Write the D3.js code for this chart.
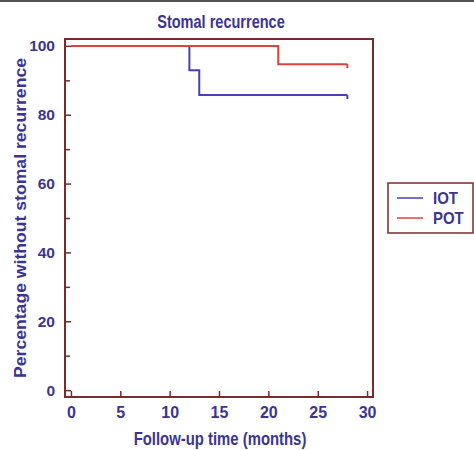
<!DOCTYPE html>
<html>
<head>
<meta charset="utf-8">
<script src="https://cdn.jsdelivr.net/npm/d3@7"></script>
<style>
  body { margin: 0; background: #fff; }
  svg text { font-family: "Liberation Sans", Arial, sans-serif; font-weight: bold; fill: #3b3495; }
</style>
</head>
<body>
<svg width="474" height="450"></svg>
<script>
// data
var groups = ["IOT", "POT"];
var iotTime = [0, 12, 13, 28],
    iotPct  = [100, 92.9, 85.7, 85.7];
var potTime = [0, 21, 28],
    potPct  = [100, 94.7, 94.7];
var xTicks = [0, 5, 10, 15, 20, 25, 30];
var yTicks = [0, 20, 40, 60, 80, 100];
var yMinor = [10, 30, 50, 70, 90];

var frameCol = "#7a2b2b",
    colors = {IOT: "#4a3fb8", POT: "#e2403b"};

// squeeze text horizontally, the original font is narrower than Arial
function condense(sel, f) {
  sel.each(function() {
    var w = this.getComputedTextLength();
    d3.select(this).attr("textLength", w * f).attr("lengthAdjust", "spacingAndGlyphs");
  });
}

var svg = d3.select("svg"),
    margin = {top: 39, right: 101, bottom: 53, left: 65},
    width = +svg.attr("width") - margin.left - margin.right,
    height = +svg.attr("height") - margin.top - margin.bottom;

svg.append("rect").attr("x", 0).attr("y", 0).attr("width", 474).attr("height", 2).attr("fill", "#555");

var g = svg.append("g").attr("transform", "translate(" + margin.left + "," + margin.top + ")");

var x = d3.scaleLinear().domain([-0.6, 30.6]).range([0, width]);
var y = d3.scaleLinear().domain([-2, 102]).range([height, 0]);

// minor ticks on y
g.append("g")
    .call(d3.axisLeft(y).tickValues(yMinor).tickSize(-5).tickFormat(""))
    .call(function(a) { a.select(".domain").remove(); a.selectAll("line").attr("stroke", frameCol).attr("stroke-width", 1.5); });

g.append("g")
    .call(d3.axisLeft(y).tickValues(yTicks).tickSize(-6).tickPadding(10))
    .call(function(a) {
      a.select(".domain").remove();
      a.selectAll("line").attr("stroke", frameCol).attr("stroke-width", 1.5);
      a.selectAll("text").attr("font-size", 15.5).attr("font-family", null);
    });

g.append("g")
    .attr("transform", "translate(0," + height + ")")
    .call(d3.axisBottom(x).tickValues(xTicks).tickSize(-6).tickPadding(10))
    .call(function(a) {
      a.select(".domain").remove();
      a.selectAll("line").attr("stroke", frameCol).attr("stroke-width", 1.5);
      a.selectAll("text").attr("font-size", 16).attr("font-family", null);
    });

g.append("rect")
    .attr("width", width).attr("height", height)
    .attr("fill", "none").attr("stroke", frameCol).attr("stroke-width", 2);

var line = d3.line()
    .x(function(d) { return x(d[0]); })
    .y(function(d) { return y(d[1]); })
    .curve(d3.curveStepAfter);

var series = [
  {name: "IOT", data: d3.zip(iotTime, iotPct)},
  {name: "POT", data: d3.zip(potTime, potPct)}
];

series.forEach(function(s) {
  g.append("path")
      .attr("d", line(s.data))
      .attr("fill", "none")
      .attr("stroke", colors[s.name])
      .attr("stroke-width", 2);
  // censor mark at the end
  var last = s.data[s.data.length - 1];
  g.append("line")
      .attr("x1", x(last[0])).attr("x2", x(last[0]))
      .attr("y1", y(last[1])).attr("y2", y(last[1]) + 4)
      .attr("stroke", colors[s.name]).attr("stroke-width", 2);
});

svg.append("text")
    .attr("x", 221).attr("y", 28)
    .attr("text-anchor", "middle").attr("font-size", 17.5)
    .text("Stomal recurrence")
    .call(condense, 0.83);

svg.append("text")
    .attr("x", 220).attr("y", 445)
    .attr("text-anchor", "middle").attr("font-size", 17.5)
    .text("Follow-up time (months)")
    .call(condense, 0.85);

svg.append("text")
    .attr("transform", "translate(26," + (margin.top + y(50)) + ") rotate(-90)")
    .attr("text-anchor", "middle").attr("font-size", 16.5)
    .attr("textLength", 320).attr("lengthAdjust", "spacingAndGlyphs")
    .text("Percentage without stomal recurrence");

// legend
var lg = svg.append("g").attr("transform", "translate(388,183)");
lg.append("rect").attr("width", 85).attr("height", 50)
    .attr("fill", "none").attr("stroke", frameCol).attr("stroke-width", 1.5);
groups.forEach(function(name, i) {
  var yy = 15 + i * 20;
  lg.append("line").attr("x1", 9).attr("x2", 35).attr("y1", yy).attr("y2", yy)
      .attr("stroke", colors[name]).attr("stroke-width", 1.5);
  lg.append("text").attr("x", 45).attr("y", yy + 6).attr("font-size", 17).text(name)
      .call(condense, 0.88);
});
</script>
</body>
</html>
